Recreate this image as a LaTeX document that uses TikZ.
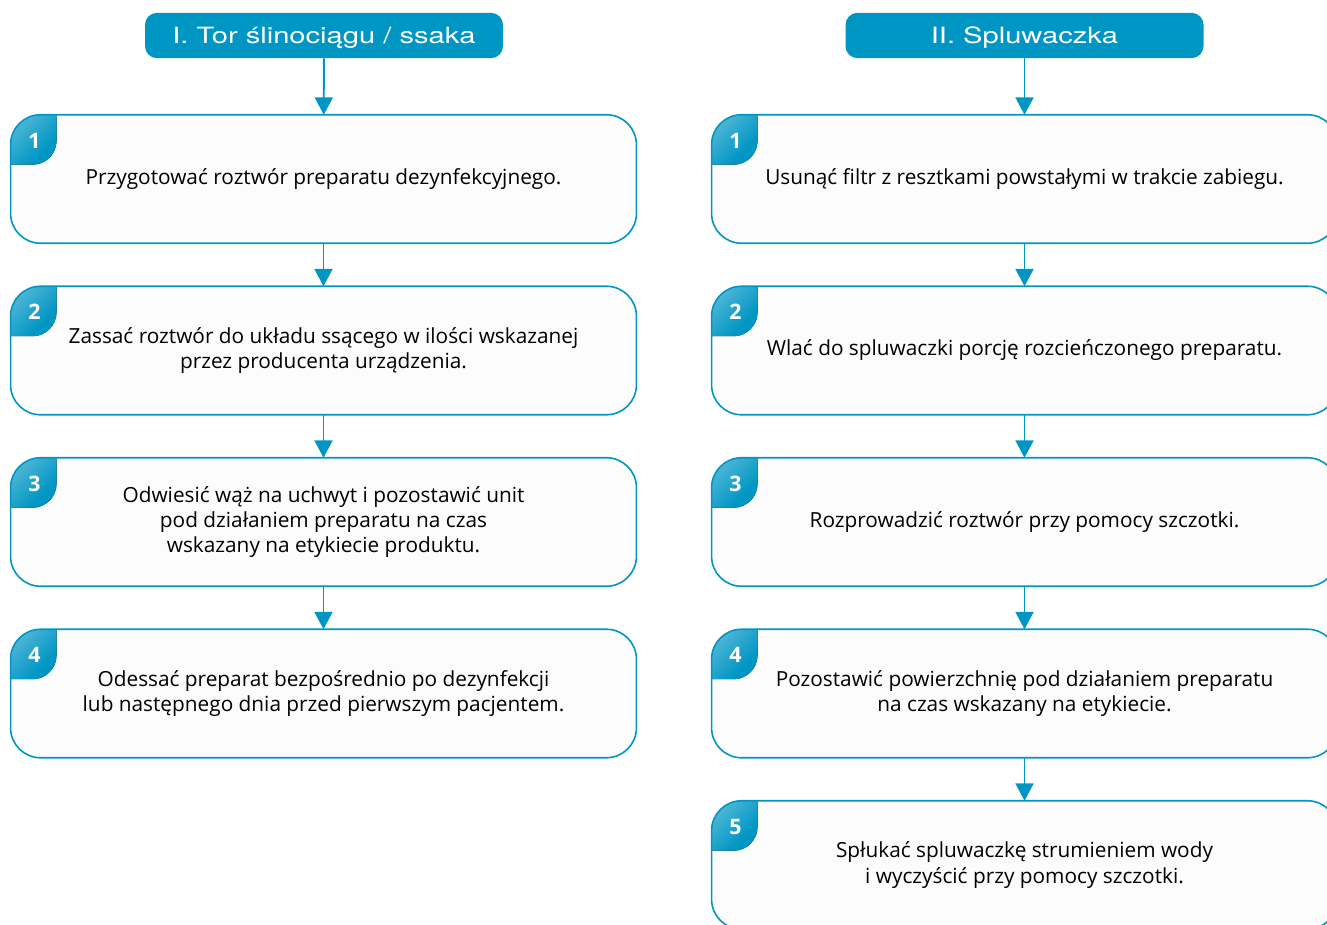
\documentclass[tikz,border=0pt]{standalone}
\usepackage{fontspec}
\setmainfont{Open Sans}
\newfontfamily\headfont[FakeStretch=1.3]{TeX Gyre Heros}
\usetikzlibrary{calc}
\usetikzlibrary{arrows.meta}
\definecolor{stepblue}{RGB}{0,150,196}
\definecolor{boxfill}{RGB}{252,252,252}
\tikzset{
	headstyle/.style={rectangle,rounded corners=9pt,fill=stepblue,text=white,minimum width=268.5pt,minimum height=34pt,text height=12pt,text depth=0pt,font=\headfont\fontsize{16.8}{19}\selectfont},
	stepstyle/.style={rectangle,rounded corners=22.5pt,fill=boxfill,minimum width=469pt,minimum height=96pt,align=center,font=\fontsize{15.6}{19}\selectfont},
	lineblue/.style={draw=stepblue,line width=1.2pt},
	tabstyle/.style={top color=stepblue!30!white,bottom color=stepblue,shading angle=45},
	numstyle/.style={text=white,font=\bfseries\fontsize{16}{16}\selectfont},
	arrowstyle/.style={draw=stepblue,line width=1.4pt,-{Triangle[width=13.5pt,length=13pt]}}
}
\newcommand{\steptab}[2]{%
	\begin{scope}
		\clip[rounded corners=22.5pt] (#1.south west) rectangle (#1.north east);
		\fill[tabstyle,rounded corners=18pt] ($(#1.north west)+(-40,-40)$) rectangle ($(#1.north west)+(46,50)$);
	\end{scope}
	\node[numstyle] (#1n) at ($(#1.north west)+(24,26)$) {#2};
	\draw[lineblue,rounded corners=22.5pt] (#1.south west) rectangle (#1.north east);
}

\begin{document}
\begin{tikzpicture}[x=0.75pt,y=-0.75pt]
		\useasboundingbox (0,0) rectangle (1327,924);
		\clip (0,0) rectangle (1327,924);
		% left column
		\node[headstyle] (h1) at (324,35.5) {I. Tor ślinociągu / ssaka};
		\node[stepstyle] (a1) at (323.5,179) {Przygotować roztwór preparatu dezynfekcyjnego.};
		\node[stepstyle] (a2) at (323.5,350.5) {Zassać roztwór do układu ssącego w ilości wskazanej\\przez producenta urządzenia.};
		\node[stepstyle] (a3) at (323.5,522) {Odwiesić wąż na uchwyt i pozostawić unit\\pod działaniem preparatu na czas\\wskazany na etykiecie produktu.};
		\node[stepstyle] (a4) at (323.5,693.5) {Odessać preparat bezpośrednio po dezynfekcji\\lub następnego dnia przed pierwszym pacjentem.};
		% right column
		\node[headstyle] (h2) at (1024.5,35.5) {II. Spluwaczka};
		\node[stepstyle] (b1) at (1024.5,179) {Usunąć filtr z resztkami powstałymi w trakcie zabiegu.};
		\node[stepstyle] (b2) at (1024.5,350.5) {Wlać do spluwaczki porcję rozcieńczonego preparatu.};
		\node[stepstyle] (b3) at (1024.5,522) {Rozprowadzić roztwór przy pomocy szczotki.};
		\node[stepstyle] (b4) at (1024.5,693.5) {Pozostawić powierzchnię pod działaniem preparatu\\na czas wskazany na etykiecie.};
		\node[stepstyle] (b5) at (1024.5,865) {Spłukać spluwaczkę strumieniem wody\\i wyczyścić przy pomocy szczotki.};
		% number tabs
		\steptab{a1}{1}
		\steptab{a2}{2}
		\steptab{a3}{3}
		\steptab{a4}{4}
		\steptab{b1}{1}
		\steptab{b2}{2}
		\steptab{b3}{3}
		\steptab{b4}{4}
		\steptab{b5}{5}
		% arrows
		\draw[arrowstyle] (h1)--(a1);
		\draw[arrowstyle] (a1)--(a2);
		\draw[arrowstyle] (a2)--(a3);
		\draw[arrowstyle] (a3)--(a4);
		\draw[arrowstyle] (h2)--(b1);
		\draw[arrowstyle] (b1)--(b2);
		\draw[arrowstyle] (b2)--(b3);
		\draw[arrowstyle] (b3)--(b4);
		\draw[arrowstyle] (b4)--(b5);
\end{tikzpicture}
\end{document}
